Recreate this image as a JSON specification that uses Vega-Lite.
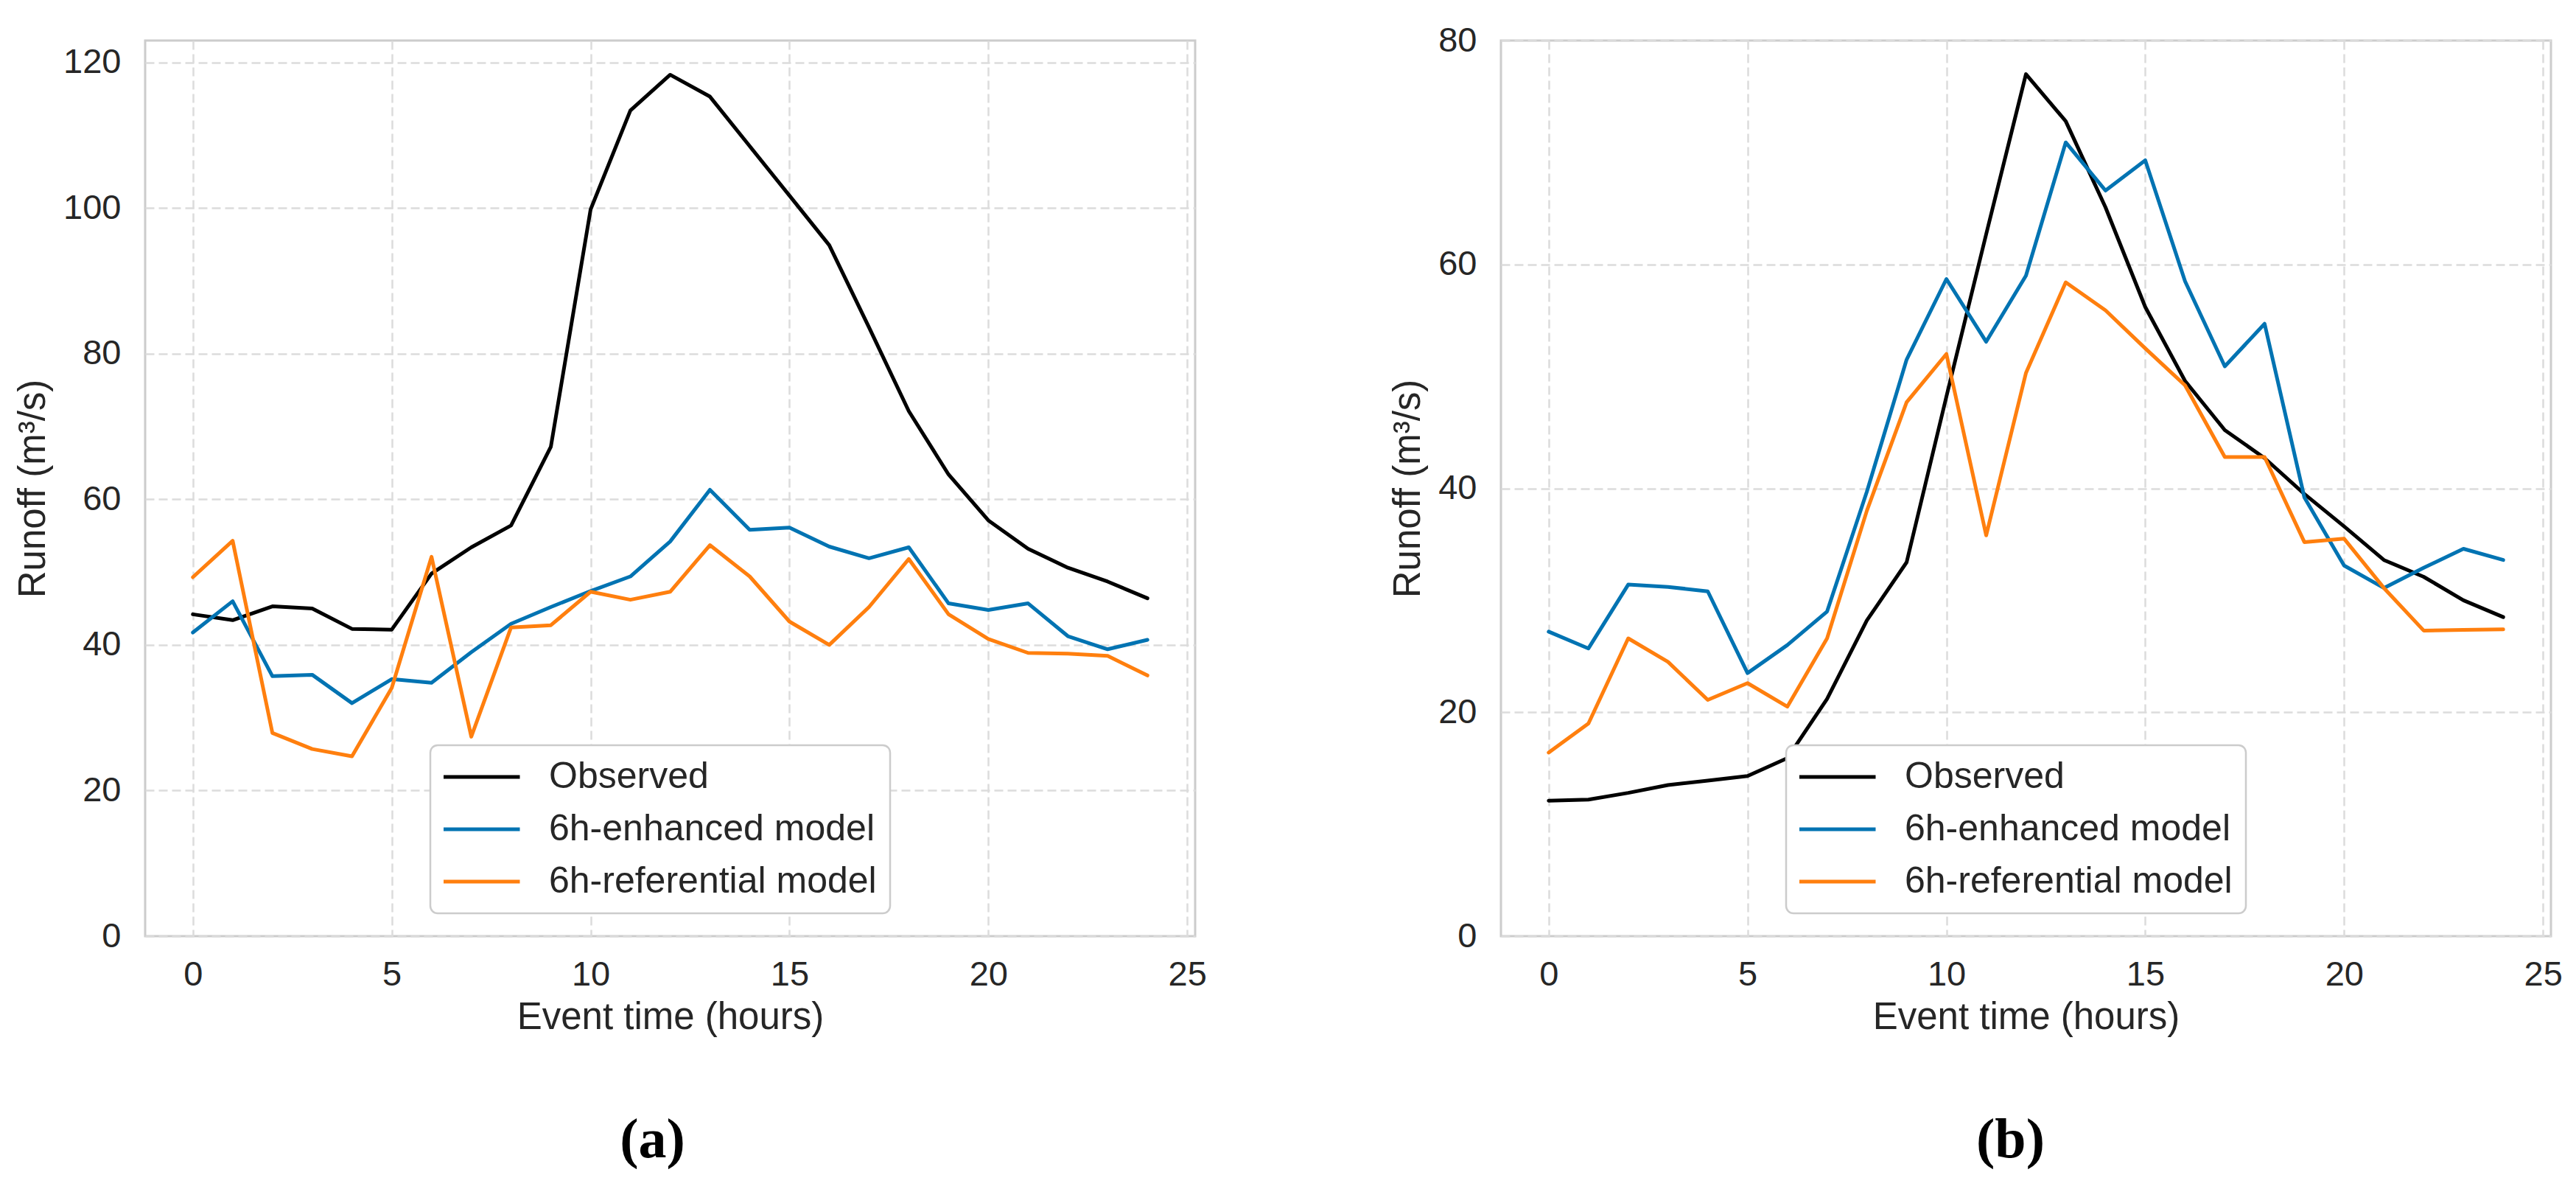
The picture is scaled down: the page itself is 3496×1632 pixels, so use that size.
{
  "$schema": "https://vega.github.io/schema/vega-lite/v6.json",
  "background": "white",
  "padding": {"left": 18, "top": 29, "right": 10, "bottom": 5},
  "datasets": {
    "a": [
      {"t":0,"s":"Observed","v":44.2},{"t":1,"s":"Observed","v":43.4},{"t":2,"s":"Observed","v":45.3},{"t":3,"s":"Observed","v":45.0},{"t":4,"s":"Observed","v":42.2},{"t":5,"s":"Observed","v":42.1},{"t":6,"s":"Observed","v":49.8},{"t":7,"s":"Observed","v":53.4},{"t":8,"s":"Observed","v":56.4},{"t":9,"s":"Observed","v":67.2},{"t":10,"s":"Observed","v":99.8},{"t":11,"s":"Observed","v":113.4},{"t":12,"s":"Observed","v":118.3},{"t":13,"s":"Observed","v":115.3},{"t":14,"s":"Observed","v":108.5},{"t":15,"s":"Observed","v":101.7},{"t":16,"s":"Observed","v":94.9},{"t":17,"s":"Observed","v":83.6},{"t":18,"s":"Observed","v":72.1},{"t":19,"s":"Observed","v":63.4},{"t":20,"s":"Observed","v":57.1},{"t":21,"s":"Observed","v":53.2},{"t":22,"s":"Observed","v":50.6},{"t":23,"s":"Observed","v":48.7},{"t":24,"s":"Observed","v":46.4},
      {"t":0,"s":"6h-enhanced model","v":41.7},{"t":1,"s":"6h-enhanced model","v":46.0},{"t":2,"s":"6h-enhanced model","v":35.7},{"t":3,"s":"6h-enhanced model","v":35.9},{"t":4,"s":"6h-enhanced model","v":32.0},{"t":5,"s":"6h-enhanced model","v":35.3},{"t":6,"s":"6h-enhanced model","v":34.8},{"t":7,"s":"6h-enhanced model","v":39.0},{"t":8,"s":"6h-enhanced model","v":42.9},{"t":9,"s":"6h-enhanced model","v":45.2},{"t":10,"s":"6h-enhanced model","v":47.4},{"t":11,"s":"6h-enhanced model","v":49.4},{"t":12,"s":"6h-enhanced model","v":54.2},{"t":13,"s":"6h-enhanced model","v":61.3},{"t":14,"s":"6h-enhanced model","v":55.8},{"t":15,"s":"6h-enhanced model","v":56.1},{"t":16,"s":"6h-enhanced model","v":53.5},{"t":17,"s":"6h-enhanced model","v":51.9},{"t":18,"s":"6h-enhanced model","v":53.4},{"t":19,"s":"6h-enhanced model","v":45.7},{"t":20,"s":"6h-enhanced model","v":44.8},{"t":21,"s":"6h-enhanced model","v":45.7},{"t":22,"s":"6h-enhanced model","v":41.2},{"t":23,"s":"6h-enhanced model","v":39.4},{"t":24,"s":"6h-enhanced model","v":40.7},
      {"t":0,"s":"6h-referential model","v":49.3},{"t":1,"s":"6h-referential model","v":54.3},{"t":2,"s":"6h-referential model","v":27.9},{"t":3,"s":"6h-referential model","v":25.7},{"t":4,"s":"6h-referential model","v":24.7},{"t":5,"s":"6h-referential model","v":34.1},{"t":6,"s":"6h-referential model","v":52.1},{"t":7,"s":"6h-referential model","v":27.4},{"t":8,"s":"6h-referential model","v":42.4},{"t":9,"s":"6h-referential model","v":42.7},{"t":10,"s":"6h-referential model","v":47.3},{"t":11,"s":"6h-referential model","v":46.2},{"t":12,"s":"6h-referential model","v":47.3},{"t":13,"s":"6h-referential model","v":53.7},{"t":14,"s":"6h-referential model","v":49.4},{"t":15,"s":"6h-referential model","v":43.2},{"t":16,"s":"6h-referential model","v":40.0},{"t":17,"s":"6h-referential model","v":45.2},{"t":18,"s":"6h-referential model","v":51.8},{"t":19,"s":"6h-referential model","v":44.2},{"t":20,"s":"6h-referential model","v":40.8},{"t":21,"s":"6h-referential model","v":38.9},{"t":22,"s":"6h-referential model","v":38.8},{"t":23,"s":"6h-referential model","v":38.5},{"t":24,"s":"6h-referential model","v":35.8}
    ],
    "b": [
      {"t":0,"s":"Observed","v":12.1},{"t":1,"s":"Observed","v":12.2},{"t":2,"s":"Observed","v":12.8},{"t":3,"s":"Observed","v":13.5},{"t":4,"s":"Observed","v":13.9},{"t":5,"s":"Observed","v":14.3},{"t":6,"s":"Observed","v":15.9},{"t":7,"s":"Observed","v":21.2},{"t":8,"s":"Observed","v":28.2},{"t":9,"s":"Observed","v":33.4},{"t":10,"s":"Observed","v":48.2},{"t":11,"s":"Observed","v":62.7},{"t":12,"s":"Observed","v":77.0},{"t":13,"s":"Observed","v":72.8},{"t":14,"s":"Observed","v":65.1},{"t":15,"s":"Observed","v":56.2},{"t":16,"s":"Observed","v":49.6},{"t":17,"s":"Observed","v":45.2},{"t":18,"s":"Observed","v":42.7},{"t":19,"s":"Observed","v":39.5},{"t":20,"s":"Observed","v":36.6},{"t":21,"s":"Observed","v":33.6},{"t":22,"s":"Observed","v":32.1},{"t":23,"s":"Observed","v":30.0},{"t":24,"s":"Observed","v":28.5},
      {"t":0,"s":"6h-enhanced model","v":27.2},{"t":1,"s":"6h-enhanced model","v":25.7},{"t":2,"s":"6h-enhanced model","v":31.4},{"t":3,"s":"6h-enhanced model","v":31.2},{"t":4,"s":"6h-enhanced model","v":30.8},{"t":5,"s":"6h-enhanced model","v":23.5},{"t":6,"s":"6h-enhanced model","v":26.0},{"t":7,"s":"6h-enhanced model","v":29.0},{"t":8,"s":"6h-enhanced model","v":39.7},{"t":9,"s":"6h-enhanced model","v":51.5},{"t":10,"s":"6h-enhanced model","v":58.7},{"t":11,"s":"6h-enhanced model","v":53.1},{"t":12,"s":"6h-enhanced model","v":59.0},{"t":13,"s":"6h-enhanced model","v":70.9},{"t":14,"s":"6h-enhanced model","v":66.6},{"t":15,"s":"6h-enhanced model","v":69.3},{"t":16,"s":"6h-enhanced model","v":58.5},{"t":17,"s":"6h-enhanced model","v":50.9},{"t":18,"s":"6h-enhanced model","v":54.7},{"t":19,"s":"6h-enhanced model","v":39.2},{"t":20,"s":"6h-enhanced model","v":33.1},{"t":21,"s":"6h-enhanced model","v":31.1},{"t":22,"s":"6h-enhanced model","v":32.9},{"t":23,"s":"6h-enhanced model","v":34.6},{"t":24,"s":"6h-enhanced model","v":33.6},
      {"t":0,"s":"6h-referential model","v":16.4},{"t":1,"s":"6h-referential model","v":19.0},{"t":2,"s":"6h-referential model","v":26.6},{"t":3,"s":"6h-referential model","v":24.5},{"t":4,"s":"6h-referential model","v":21.1},{"t":5,"s":"6h-referential model","v":22.6},{"t":6,"s":"6h-referential model","v":20.5},{"t":7,"s":"6h-referential model","v":26.6},{"t":8,"s":"6h-referential model","v":38.0},{"t":9,"s":"6h-referential model","v":47.7},{"t":10,"s":"6h-referential model","v":52.0},{"t":11,"s":"6h-referential model","v":35.8},{"t":12,"s":"6h-referential model","v":50.3},{"t":13,"s":"6h-referential model","v":58.4},{"t":14,"s":"6h-referential model","v":55.9},{"t":15,"s":"6h-referential model","v":52.5},{"t":16,"s":"6h-referential model","v":49.2},{"t":17,"s":"6h-referential model","v":42.8},{"t":18,"s":"6h-referential model","v":42.8},{"t":19,"s":"6h-referential model","v":35.2},{"t":20,"s":"6h-referential model","v":35.5},{"t":21,"s":"6h-referential model","v":31.1},{"t":22,"s":"6h-referential model","v":27.3},{"t":23,"s":"6h-referential model","v":27.35},{"t":24,"s":"6h-referential model","v":27.4}
    ]
  },
  "bounds": "flush",
  "spacing": 415,
  "resolve": {"scale": {"color": "independent"}, "legend": {"color": "independent"}},
  "hconcat": [
    {
      "data": {"name": "a"},
      "width": 1425,
      "height": 1215,
      "title": {"text": "(a)", "dx": -24},
      "mark": {"type": "line", "strokeWidth": 5, "strokeJoin": "round", "strokeCap": "round"},
      "encoding": {
        "x": {"field": "t", "type": "quantitative", "title": "Event time (hours)",
              "scale": {"domain": [-1.2, 25.2], "nice": false, "zero": false},
              "axis": {"values": [0, 5, 10, 15, 20, 25]}},
        "y": {"field": "v", "type": "quantitative", "title": "Runoff (m³/s)",
              "scale": {"domain": [0, 123], "nice": false},
              "axis": {"values": [0, 20, 40, 60, 80, 100, 120]}},
        "color": {"field": "s", "type": "nominal",
                  "scale": {"domain": ["Observed", "6h-enhanced model", "6h-referential model"], "range": ["#000000", "#0173b2", "#ff7f0e"]},
                  "legend": {"title": null}}
      }
    },
    {
      "data": {"name": "b"},
      "width": 1425,
      "height": 1215,
      "title": {"text": "(b)", "dx": -21},
      "mark": {"type": "line", "strokeWidth": 5, "strokeJoin": "round", "strokeCap": "round"},
      "encoding": {
        "x": {"field": "t", "type": "quantitative", "title": "Event time (hours)",
              "scale": {"domain": [-1.2, 25.2], "nice": false, "zero": false},
              "axis": {"values": [0, 5, 10, 15, 20, 25]}},
        "y": {"field": "v", "type": "quantitative", "title": "Runoff (m³/s)",
              "scale": {"domain": [0, 80], "nice": false},
              "axis": {"values": [0, 20, 40, 60, 80]}},
        "color": {"field": "s", "type": "nominal",
                  "scale": {"domain": ["Observed", "6h-enhanced model", "6h-referential model"], "range": ["#000000", "#0173b2", "#ff7f0e"]},
                  "legend": {"title": null}}
      }
    }
  ],
  "config": {
    "view": {"stroke": "#cccccc", "strokeWidth": 3},
    "axis": {
      "domain": false,
      "ticks": false,
      "grid": true,
      "gridColor": "#dcdcdc",
      "gridWidth": 2.5,
      "gridDash": [12, 6],
      "labelFont": "Liberation Sans",
      "labelFontSize": 47,
      "labelColor": "#262626",
      "titleFont": "Liberation Sans",
      "titleFontSize": 51,
      "titleFontWeight": "normal",
      "titleColor": "#262626"
    },
    "axisX": {"labelPadding": 29, "titlePadding": 10},
    "axisY": {"labelPadding": 33, "titlePadding": 14},
    "legend": {
      "orient": "none",
      "legendX": 387,
      "legendY": 956,
      "fillColor": "white",
      "strokeColor": "#cccccc",
      "strokeWidth": 2.5,
      "cornerRadius": 10,
      "padding": 18,
      "symbolType": "stroke",
      "symbolSize": 10816,
      "symbolStrokeWidth": 5,
      "symbolOffset": -3,
      "clipHeight": 50,
      "rowPadding": 21,
      "labelFont": "Liberation Sans",
      "labelFontSize": 50,
      "labelColor": "#262626",
      "labelOffset": 37,
      "labelLimit": 2000
    },
    "title": {
      "orient": "bottom",
      "anchor": "middle",
      "offset": 105,
      "font": "Liberation Serif",
      "fontSize": 76,
      "fontWeight": "bold",
      "color": "#000000"
    }
  }
}
